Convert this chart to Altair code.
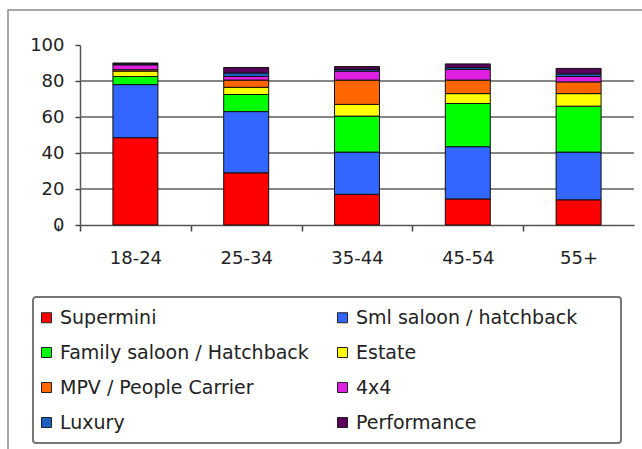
import altair as alt
import pandas as pd

ages = ["18-24", "25-34", "35-44", "45-54", "55+"]
types = ["Supermini", "Sml saloon / hatchback", "Family saloon / Hatchback", "Estate",
         "MPV / People Carrier", "4x4", "Luxury", "Performance"]
colors = ["#FF0000", "#3366FF", "#00FF00", "#FFFF00", "#FF6600", "#E020E0", "#1F5FBF", "#5A005A"]

supermini = [48.5, 29, 17, 14.5, 14]
sml_saloon = [29.5, 34, 23.5, 29, 26.5]
family_saloon = [4.5, 9.5, 20, 24, 25.5]
estate = [3, 4, 6.5, 5.5, 7]
mpv = [0.8, 4, 13.5, 7.5, 6.5]
four_by_four = [2.7, 2, 5, 6, 3]
luxury = [0.5, 2, 1, 1, 1.5]
performance = [0.5, 3, 1.5, 2, 3]

grid_values = [20, 40, 60, 80]
y_ticks = [0, 20, 40, 60, 80, 100]

series = [supermini, sml_saloon, family_saloon, estate, mpv, four_by_four, luxury, performance]
rows = []
for i, (t, vals) in enumerate(zip(types, series)):
    for a, v in zip(ages, vals):
        rows.append({"age": a, "type": t, "value": v, "idx": i})
df = pd.DataFrame(rows)

FONT = "DejaVu Sans"

y_axis = alt.Axis(title=None, values=y_ticks, ticks=True, tickSize=5, labelPadding=11,
                  labelOverlap=False, labelFont=FONT, labelFontSize=18,
                  labelColor="#222222", domainColor="#555555", domainWidth=1.5,
                  tickColor="#444444", tickWidth=1.5, tickOpacity=1, grid=False)
y_scale = alt.Scale(domain=[0, 100], nice=False)

frame = alt.Chart(pd.DataFrame({"k": [0]})).mark_rect(
    fillOpacity=0, stroke="#8a8a8a", strokeWidth=1.5
).encode(x=alt.value(-72), x2=alt.value(600), y=alt.value(-35), y2=alt.value(450))

legend_box = alt.Chart(pd.DataFrame({"k": [0]})).mark_rect(
    fillOpacity=0, stroke="#777777", strokeWidth=2, cornerRadius=3
).encode(x=alt.value(-47), x2=alt.value(541), y=alt.value(252), y2=alt.value(398))

grid = alt.Chart(pd.DataFrame({"g": grid_values})).mark_rule(
    color="#5e5e5e", strokeWidth=1.6
).encode(y=alt.Y("g:Q", scale=y_scale, axis=y_axis, title=None))

bars = alt.Chart(df).mark_bar(stroke="#111111", strokeWidth=1).encode(
    x=alt.X("age:N", sort=ages,
            scale=alt.Scale(paddingInner=0.594, paddingOuter=0.297),
            axis=alt.Axis(title=None, labelAngle=0, ticks=True, tickOffset=-55.4,
                          labelOffset=55.4,
                          tickExtra=True, tickSize=6, tickOpacity=1,
                          labelPadding=18, labelFont=FONT, labelFontSize=18,
                          labelColor="#222222", domainColor="#555555", domainWidth=1.5,
                          tickColor="#444444", tickWidth=1.5, grid=False)),
    y=alt.Y("value:Q", stack="zero", scale=y_scale, axis=y_axis, title=None),
    color=alt.Color("type:N", sort=types,
                    scale=alt.Scale(domain=types, range=colors),
                    legend=alt.Legend(title=None, orient="none", legendX=-43, legendY=263,
                                      direction="horizontal",
                                      columns=2, gridAlign="all", columnPadding=24,
                                      rowPadding=15, padding=0, symbolType="square",
                                      symbolSize=100, symbolStrokeColor="#222222",
                                      symbolStrokeWidth=1, symbolOpacity=1,
                                      labelFont=FONT, labelFontSize=19, labelColor="#222222",
                                      labelOffset=4, labelLimit=400)),
    order=alt.Order("idx:Q", sort="ascending"),
)

chart = alt.layer(frame, legend_box, grid, bars).properties(
    width=554, height=180,
    padding={"left": 80, "top": 45, "right": 8, "bottom": 224},
    autosize=alt.AutoSizeParams(type="none"),
    background="white",
).configure_view(stroke=None)

chart.save("out.html", embed_options={"renderer": "svg", "actions": False})
